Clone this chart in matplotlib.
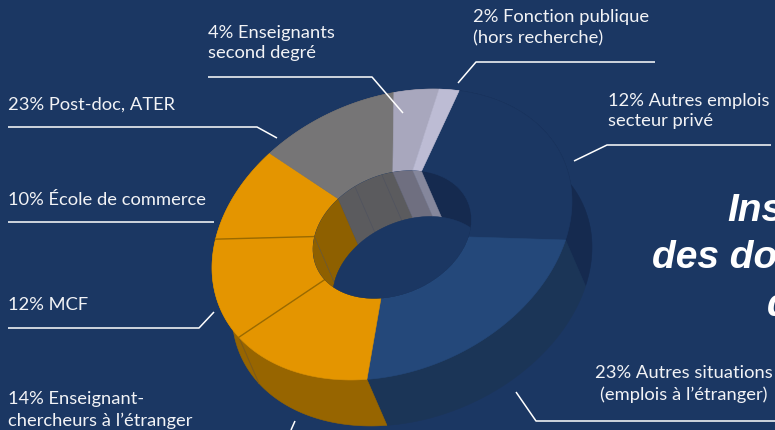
import numpy as np
import matplotlib
matplotlib.use("Agg")
import matplotlib.pyplot as plt
from matplotlib.patches import Polygon, PathPatch
from matplotlib.path import Path

plt.rcParams["font.family"] = ["Lato", "DejaVu Sans"]

# values as labelled, and the sweep each wedge really gets in the drawing (degrees)
shares = [12, 23, 14, 12, 10, 23, 4, 2]
names = ["Autres emplois", "Autres situations", "Enseignant-chercheurs", "MCF",
         "Ecole de commerce", "Post-doc", "Enseignants", "Fonction publique"]
sweeps = [83.5, 82.6, 50.3, 43.1, 35.8, 43.4, 14.6, 6.7]
start_angle = -68.1

top_colors = ["#1b3763", "#24487a", "#e49500", "#e49500", "#e49500", "#767576", "#a8a7bd", "#bdbcd4"]
side_colors = ["#152a4f", "#1b3557", "#976500", "#976500", "#976500", "#5b5b5e", "#6f6f80", "#85879c"]
inner_colors = ["#152a4f", "#1b3557", "#8e6000", "#8e6000", "#8e6000", "#5b5b5e", "#6f6f80", "#85879c"]

# faint seams on the inner wall of the grey wedge
wall_seams = [-118, -97.4]

label_texts = ["4% Enseignants\nsecond degré", "2% Fonction publique\n(hors recherche)",
               "12% Autres emplois\nsecteur privé", "23% Post-doc, ATER", "10% École de commerce",
               "12% MCF", "14% Enseignant-\nchercheurs à l’étranger",
               "23% Autres situations\n(emplois à l’étranger)"]
label_x = [208, 473, 608, 8, 8, 8, 8, 773]
label_y = [43, 28, 111, 105, 200, 305, 410, 384]
label_ha = ["left", "left", "left", "left", "left", "left", "left", "right"]

leader_xs = [[208, 372, 403], [655, 476, 458], [771, 607, 574], [8, 257, 277], [8, 214],
             [8, 199, 214], [291, 295], [516, 536, 775]]
leader_ys = [[78, 78, 114], [63, 63, 84], [146, 146, 162], [128, 128, 139], [223, 223],
             [329, 329, 313], [431, 422], [393, 422, 422]]

title_parts = ["Ins", "des do", "d"]
title_x = [727, 652, 767]
title_y = [221, 268, 316]

BG = "#1b3763"
cx, cy = 392, 235.5
extrude = np.array([20, 46])
inner_ratio = 0.44


def ring_point(t_deg, scale=1.0, shift=(0, 0)):
    t = np.radians(t_deg)
    x = cx + scale * 180 * np.cos(t) + shift[0]
    y = cy + scale * (-33.3 * np.cos(t) + 141.6 * np.sin(t)) + shift[1]
    return np.column_stack([x, y])


fig = plt.figure(figsize=(7.75, 4.31), dpi=100, facecolor=BG)
ax = fig.add_axes([0, 0, 1, 1])
ax.set_xlim(0, 775)
ax.set_ylim(431, 0)
ax.axis("off")

edges = start_angle + np.concatenate([[0], np.cumsum(sweeps)])

# outer side walls
for i in range(len(sweeps)):
    t = np.linspace(edges[i], edges[i + 1], 60)
    pts = np.vstack([ring_point(t), ring_point(t[::-1], shift=extrude)])
    ax.add_patch(Polygon(pts, fc=side_colors[i], ec=side_colors[i], lw=0.4, zorder=2))

# seam between the two orange walls
seam = np.vstack([ring_point([edges[3]]), ring_point([edges[3]], shift=extrude)])
ax.plot(seam[:, 0], seam[:, 1], color="#7d5a1a", lw=0.7, zorder=2.5)

# top faces
for i in range(len(sweeps)):
    t = np.linspace(edges[i], edges[i + 1], 60)
    pts = np.vstack([ring_point(t), ring_point(t[::-1], scale=inner_ratio)])
    ax.add_patch(Polygon(pts, fc=top_colors[i], ec=top_colors[i], lw=0.4, zorder=3))

# darker rules between the orange wedges
for k in [3, 4]:
    rule = np.vstack([ring_point([edges[k]]), ring_point([edges[k]], scale=inner_ratio)])
    ax.plot(rule[:, 0], rule[:, 1], color="#9a6a00", lw=1.0, zorder=3.5)

# hole: walls clipped to the top opening, then see-through floor
hole_t = np.linspace(0, 360, 200)
hole_clip = PathPatch(Path(ring_point(hole_t, scale=inner_ratio)), fc=BG, ec="none", zorder=4)
ax.add_patch(hole_clip)
for i in range(len(sweeps)):
    t = np.linspace(edges[i], edges[i + 1], 40)
    pts = np.vstack([ring_point(t, scale=inner_ratio),
                     ring_point(t[::-1], scale=inner_ratio, shift=extrude)])
    p = Polygon(pts, fc=inner_colors[i], ec=inner_colors[i], lw=0.3, zorder=5)
    ax.add_patch(p)
    p.set_clip_path(hole_clip)
for a, col in zip(wall_seams + [edges[4] - 360], ["#50535f", "#50535f", "#6a5a3a"]):
    s = np.vstack([ring_point([a], scale=inner_ratio), ring_point([a], scale=inner_ratio, shift=extrude)])
    ln, = ax.plot(s[:, 0], s[:, 1], color=col, lw=0.5, zorder=5.5)
    ln.set_clip_path(hole_clip)
floor = Polygon(ring_point(hole_t, scale=inner_ratio, shift=extrude), fc=BG, ec=BG, lw=0.3, zorder=6)
ax.add_patch(floor)
floor.set_clip_path(hole_clip)

# labels and leaders
for txt, x, y, ha in zip(label_texts, label_x, label_y, label_ha):
    ax.text(x, y, txt, color="#f2f3f6", fontsize=13.2, ha=ha, va="center", linespacing=1.38, zorder=8,
            multialignment="center" if ha == "right" else "left")
for xs, ys in zip(leader_xs, leader_ys):
    ax.plot(xs, ys, color="white", lw=1.1, zorder=7, solid_capstyle="butt", clip_on=False)

for txt, x, y in zip(title_parts, title_x, title_y):
    ax.text(x, y, txt, color="white", fontsize=28, fontweight="bold", fontstyle="italic",
            family=["Liberation Sans", "DejaVu Sans"], ha="left", va="baseline", zorder=8)

fig.savefig("out.png", dpi=100, facecolor=BG)
